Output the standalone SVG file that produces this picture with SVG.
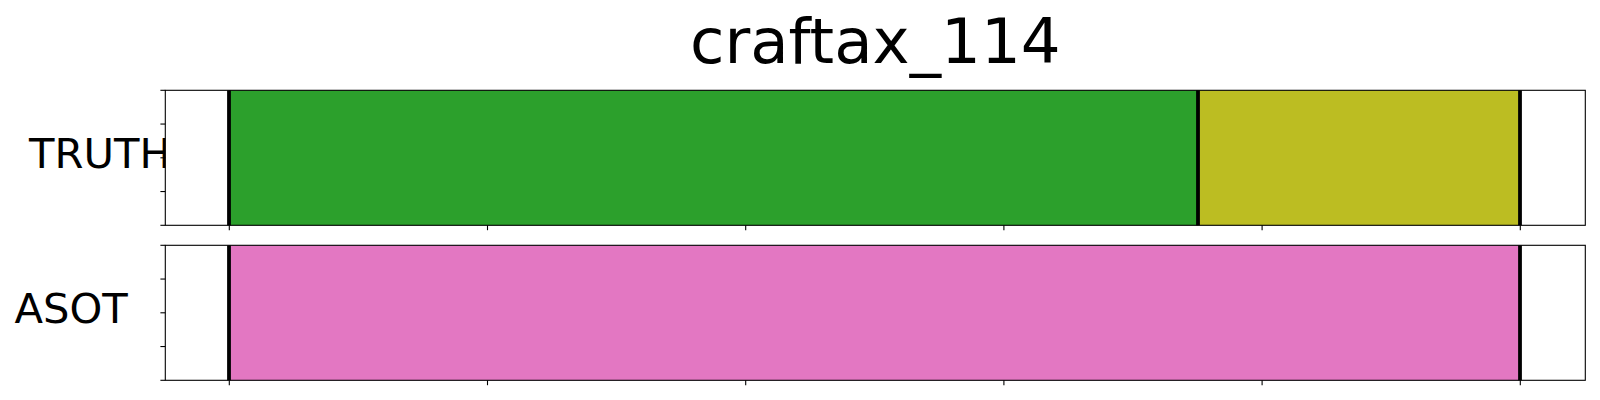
<svg xmlns="http://www.w3.org/2000/svg" width="1600" height="400" viewBox="0 0 1600 400">
<style>
text{font-family:"DejaVu Sans","Liberation Sans",sans-serif;fill:#000}
.title{font-size:62.7px}
.lab{font-size:41.7px}
.frame{fill:none;stroke:#000;stroke-width:1.1}
.tick{stroke:#000;stroke-width:1.1}
.bound{stroke:#000;stroke-width:3.8}
</style>
<rect width="1600" height="400" fill="#fff"/>
<text class="title" x="875.3" y="63.3" text-anchor="middle">craftax_114</text>
<g id="truth">
<text class="lab" x="29" y="168.3">TRUTH</text>
<rect x="165.3" y="90.3" width="1420" height="135" fill="#fff"/>
<rect x="229" y="90.3" width="969" height="135" fill="#2ca02c"/>
<rect x="1198" y="90.3" width="322" height="135" fill="#bcbd22"/>
<line class="bound" x1="229" y1="90.3" x2="229" y2="225.3"/>
<line class="bound" x1="1198" y1="90.3" x2="1198" y2="225.3"/>
<line class="bound" x1="1520" y1="90.3" x2="1520" y2="225.3"/>
<rect class="frame" x="165.3" y="90.3" width="1420" height="135"/>
<g class="tick">
<line x1="160.4" y1="90.3" x2="165.3" y2="90.3"/>
<line x1="160.4" y1="124.05" x2="165.3" y2="124.05"/>
<line x1="160.4" y1="157.8" x2="165.3" y2="157.8"/>
<line x1="160.4" y1="191.55" x2="165.3" y2="191.55"/>
<line x1="160.4" y1="225.3" x2="165.3" y2="225.3"/>
<line x1="229.3" y1="225.3" x2="229.3" y2="230.2"/>
<line x1="487.5" y1="225.3" x2="487.5" y2="230.2"/>
<line x1="745.7" y1="225.3" x2="745.7" y2="230.2"/>
<line x1="1003.9" y1="225.3" x2="1003.9" y2="230.2"/>
<line x1="1262.1" y1="225.3" x2="1262.1" y2="230.2"/>
<line x1="1520.3" y1="225.3" x2="1520.3" y2="230.2"/>
</g>
</g>
<g id="asot">
<text class="lab" x="14.5" y="323.3">ASOT</text>
<rect x="165.3" y="245.3" width="1420" height="135" fill="#fff"/>
<rect x="229" y="245.3" width="1291" height="135" fill="#e377c2"/>
<line class="bound" x1="229" y1="245.3" x2="229" y2="380.3"/>
<line class="bound" x1="1520" y1="245.3" x2="1520" y2="380.3"/>
<rect class="frame" x="165.3" y="245.3" width="1420" height="135"/>
<g class="tick">
<line x1="160.4" y1="245.3" x2="165.3" y2="245.3"/>
<line x1="160.4" y1="279.05" x2="165.3" y2="279.05"/>
<line x1="160.4" y1="312.8" x2="165.3" y2="312.8"/>
<line x1="160.4" y1="346.55" x2="165.3" y2="346.55"/>
<line x1="160.4" y1="380.3" x2="165.3" y2="380.3"/>
<line x1="229.3" y1="380.3" x2="229.3" y2="385.2"/>
<line x1="487.5" y1="380.3" x2="487.5" y2="385.2"/>
<line x1="745.7" y1="380.3" x2="745.7" y2="385.2"/>
<line x1="1003.9" y1="380.3" x2="1003.9" y2="385.2"/>
<line x1="1262.1" y1="380.3" x2="1262.1" y2="385.2"/>
<line x1="1520.3" y1="380.3" x2="1520.3" y2="385.2"/>
</g>
</g>
</svg>
